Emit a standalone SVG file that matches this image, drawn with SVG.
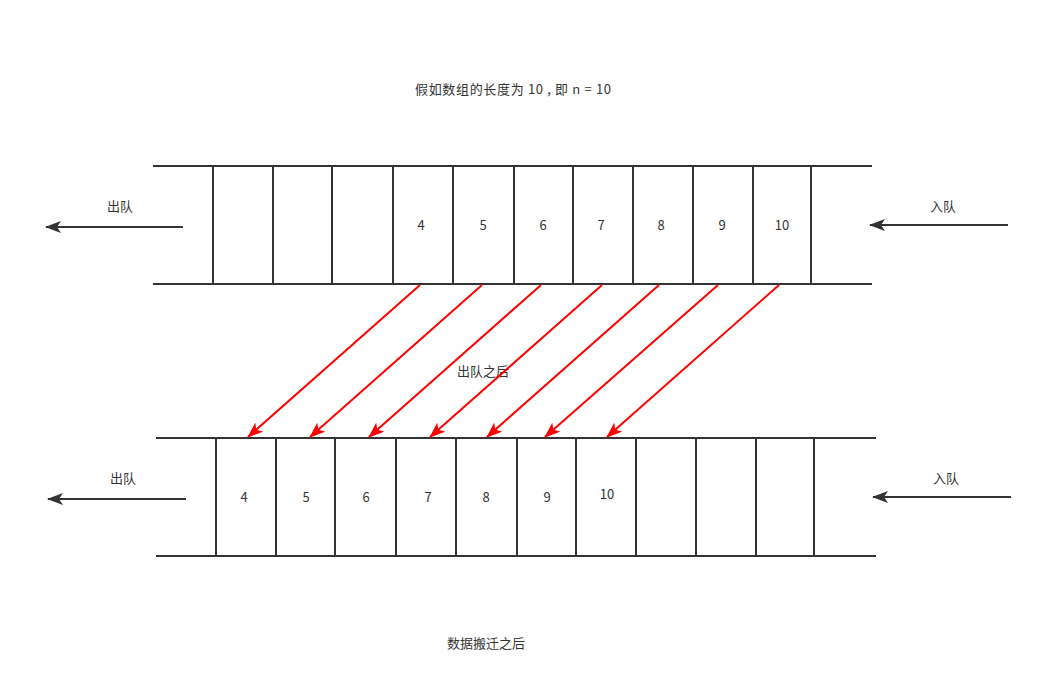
<svg xmlns="http://www.w3.org/2000/svg" width="1043" height="700" viewBox="0 0 1043 700">
<style>
text{font-family:"Noto Sans CJK SC","Noto Sans",sans-serif;font-size:13px;fill:#333;text-anchor:middle}
.ln{stroke:#333;stroke-width:2;fill:none}
.dk{stroke:#333;stroke-width:2;fill:none;marker-end:url(#ad)}
.rd{stroke:#ff0000;stroke-width:2;fill:none;marker-end:url(#ar)}
</style>
<defs>
<marker id="ad" viewBox="0 0 16 12" refX="15" refY="6" markerWidth="16" markerHeight="12" markerUnits="userSpaceOnUse" orient="auto">
<path d="M16,6 L0,0 L4,6 L0,12 Z" fill="#333"/>
</marker>
<marker id="ar" viewBox="0 0 16 12" refX="15" refY="6" markerWidth="16" markerHeight="12" markerUnits="userSpaceOnUse" orient="auto">
<path d="M16,6 L0,0 L4,6 L0,12 Z" fill="#ff0000"/>
</marker>
</defs>
<rect width="1043" height="700" fill="#fff"/>
<text x="513" y="94" textLength="196" lengthAdjust="spacing">假如数组的长度为 10 , 即 n = 10</text>
<g id="top-array">
<line class="ln" x1="153" y1="166" x2="872" y2="166"/>
<line class="ln" x1="153" y1="284" x2="872" y2="284"/>
<path class="ln" d="M213,166V284M273,166V284M332,166V284M393,166V284M453,166V284M514,166V284M573,166V284M633,166V284M693,166V284M753,166V284M811,166V284"/>
<text x="421" y="230">4</text>
<text x="483" y="230">5</text>
<text x="543" y="230">6</text>
<text x="601" y="230">7</text>
<text x="661" y="230">8</text>
<text x="722" y="230">9</text>
<text x="782" y="230">10</text>
</g>
<g id="bottom-array">
<line class="ln" x1="156" y1="438" x2="876" y2="438"/>
<line class="ln" x1="156" y1="556" x2="876" y2="556"/>
<path class="ln" d="M216,438V556M276,438V556M335,438V556M396,438V556M456,438V556M517,438V556M576,438V556M636,438V556M696,438V556M756,438V556M814,438V556"/>
<text x="244" y="502">4</text>
<text x="306" y="502">5</text>
<text x="366" y="502">6</text>
<text x="428" y="502">7</text>
<text x="486" y="502">8</text>
<text x="547" y="502">9</text>
<text x="607" y="499">10</text>
</g>
<g id="labels">
<text x="120" y="211">出队</text>
<text x="943" y="211">入队</text>
<text x="123" y="483">出队</text>
<text x="946" y="483">入队</text>
<text x="483" y="376">出队之后</text>
<text x="486" y="648">数据搬迁之后</text>
</g>
<g id="connectors">
<line class="dk" x1="183" y1="227" x2="46" y2="227"/>
<line class="dk" x1="1008" y1="225" x2="870" y2="225"/>
<line class="dk" x1="186" y1="499" x2="48" y2="499"/>
<line class="dk" x1="1011" y1="497" x2="873" y2="497"/>
<line class="rd" x1="420" y1="285" x2="248" y2="437"/>
<line class="rd" x1="482" y1="285" x2="310" y2="437"/>
<line class="rd" x1="541" y1="285" x2="369" y2="437"/>
<line class="rd" x1="602" y1="285" x2="430" y2="437"/>
<line class="rd" x1="659" y1="285" x2="487" y2="437"/>
<line class="rd" x1="718" y1="285" x2="545" y2="437"/>
<line class="rd" x1="779" y1="285" x2="607" y2="437"/>
</g>
</svg>
